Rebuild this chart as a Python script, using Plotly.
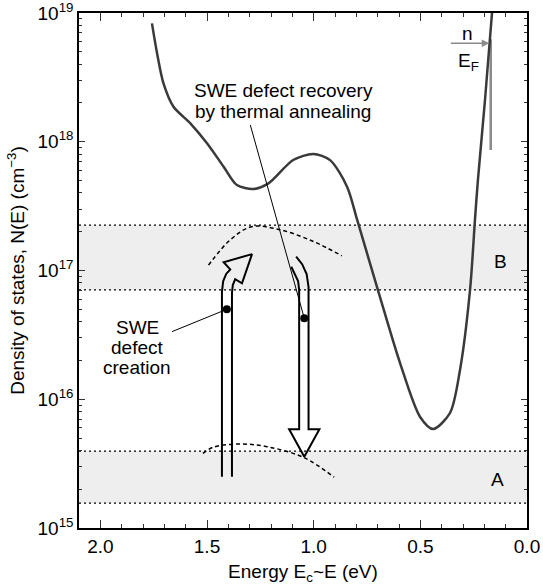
import numpy as np
import plotly.graph_objects as go

# ---------------- data ----------------
# main density-of-states curve (energy Ec-E in eV, N in cm^-3)
curve_E = [1.758, 1.734, 1.704, 1.657, 1.578, 1.500, 1.422, 1.360, 1.282, 1.212,
           1.096, 1.002, 0.923, 0.843, 0.796, 0.689, 0.595, 0.501, 0.440, 0.361,
           0.314, 0.267, 0.244, 0.230, 0.197, 0.164]
curve_N = [8.3e18, 4.86e18, 2.84e18, 1.87e18, 1.39e18, 9.73e17, 6.4e17, 4.61e17, 4.3e17, 4.75e17,
           7.21e17, 8.03e17, 7.2e17, 4.46e17, 2.47e17, 6.22e16, 1.91e16, 7.28e15, 5.87e15, 7.82e15,
           1.69e16, 7.06e16, 2.47e17, 5.05e17, 2.1e18, 1.0e19]

# defect distribution arcs (dashed)
arcB_E = [1.493, 1.391, 1.290, 1.157, 1.001, 0.868]
arcB_N = [1.1e17, 1.73e17, 2.19e17, 2.07e17, 1.68e17, 1.3e17]
arcA_E = [1.519, 1.471, 1.344, 1.219, 1.048, 0.904]
arcA_N = [3.8e15, 4.24e15, 4.49e15, 4.28e15, 3.54e15, 2.48e15]

# shaded bands (N limits)
bandB = [7.06e16, 2.25e17]
bandA = [1.56e15, 3.96e15]
x_range = [2.1, 0.0]

# schematic arrows
up_arrow_E = [1.430, 1.430, 1.424, 1.410, 1.391, 1.422, 1.289, 1.336, 1.368, 1.379, 1.383, 1.383]
up_arrow_N = [2.5e15, 6.81e16, 8.28e16, 9.4e16, 1.02e17, 1.16e17, 1.34e17, 7.96e16, 8.55e16,
              7.71e16, 6.68e16, 2.5e15]
down_arrow_E = [1.105, 1.087, 1.073, 1.068, 1.068, 1.115, 1.044, 0.973, 1.024, 1.024, 1.033, 1.054, 1.082]
down_arrow_N = [1.07e17, 9.4e16, 8.28e16, 7.06e16, 5.85e15, 5.85e15, 3.58e15, 5.85e15, 5.85e15,
                7.45e16, 9.4e16, 1.12e17, 1.28e17]

# leader lines (dot -> text)
creation_leader_E = [1.407, 1.664]
creation_leader_N = [5.0e16, 3.35e16]
recovery_leader_E = [1.044, 1.297]
recovery_leader_N = [4.26e16, 1.35e18]

# Fermi level marker
ef_line_E = [0.170, 0.170]
ef_line_N = [6.25e18, 8.63e17]
n_arrow_E = [0.364, 0.177]
n_arrow_N = 5.82e18

# text labels: (text, E, N)
creation_lines = [("SWE", 1.828, 3.6e16), ("defect", 1.828, 2.52e16), ("creation", 1.828, 1.77e16)]
recovery_lines = [("SWE defect recovery", 1.143, 2.50e18), ("by thermal annealing", 1.143, 1.72e18)]
band_labels = [("B", 0.123, 1.17e17), ("A", 0.139, 2.36e15)]
fermi_labels = [("n", 0.278, 6.9e18), ("E<sub>F</sub>", 0.274, 4.16e18)]

# axis ticks
y_major = [1e15, 1e16, 1e17, 1e18, 1e19]
y_major_text = ["10<sup>15</sup>", "10<sup>16</sup>", "10<sup>17</sup>", "10<sup>18</sup>", "10<sup>19</sup>"]
y_minor = [m * 10.0 ** d for d in range(15, 19) for m in range(2, 10)]

FONT = "Liberation Sans, Arial, Helvetica, sans-serif"
FS = 19

fig = go.Figure()

# bands
for lo, hi in (bandB, bandA):
    fig.add_trace(go.Scatter(x=[x_range[0], x_range[1], x_range[1], x_range[0], x_range[0]],
                             y=[lo, lo, hi, hi, lo], mode="lines", fill="toself",
                             fillcolor="#eeeeee", line=dict(width=0), hoverinfo="skip"))
    for v in (lo, hi):
        fig.add_trace(go.Scatter(x=x_range, y=[v, v], mode="lines",
                                 line=dict(color="black", width=1.3, dash="2px,3px")))

# dashed arcs
for ex, ny in ((arcB_E, arcB_N), (arcA_E, arcA_N)):
    fig.add_trace(go.Scatter(x=ex, y=ny, mode="lines",
                             line=dict(color="black", width=1.5, dash="4px,3px", shape="spline")))

# Fermi level line
fig.add_trace(go.Scatter(x=ef_line_E, y=ef_line_N, mode="lines",
                         line=dict(color="#8a8a8a", width=2.5)))

# main curve
fig.add_trace(go.Scatter(x=curve_E, y=curve_N, mode="lines",
                         line=dict(color="#3a3a3a", width=2.5, shape="spline", smoothing=0.8)))

# arrows
fig.add_trace(go.Scatter(x=up_arrow_E, y=up_arrow_N, mode="lines",
                         line=dict(color="black", width=2)))
fig.add_trace(go.Scatter(x=down_arrow_E, y=down_arrow_N, mode="lines",
                         line=dict(color="black", width=2)))

# leaders + dots
for ex, ny in ((creation_leader_E, creation_leader_N), (recovery_leader_E, recovery_leader_N)):
    fig.add_trace(go.Scatter(x=ex, y=ny, mode="lines", line=dict(color="black", width=1)))
    fig.add_trace(go.Scatter(x=[ex[0]], y=[ny[0]], mode="markers",
                             marker=dict(color="black", size=8)))

annotations = []
for txt, ex, ny in creation_lines + recovery_lines + band_labels + fermi_labels:
    annotations.append(dict(x=ex, y=np.log10(ny), xref="x", yref="y", text=txt,
                            showarrow=False, font=dict(family=FONT, size=FS, color="black"),
                            xanchor="center", yanchor="middle", borderpad=0))
annotations.append(dict(x=n_arrow_E[1], y=np.log10(n_arrow_N), ax=n_arrow_E[0], ay=np.log10(n_arrow_N),
                        xref="x", yref="y", axref="x", ayref="y", text="", showarrow=True,
                        arrowhead=2, arrowsize=1, arrowwidth=1.5, arrowcolor="#8a8a8a", standoff=0))

fig.update_layout(
    width=543, height=586,
    margin=dict(l=79, r=16, t=13, b=58, autoexpand=False),
    paper_bgcolor="white", plot_bgcolor="white",
    showlegend=False,
    font=dict(family=FONT, size=FS, color="black"),
    annotations=annotations,
)
fig.update_xaxes(range=x_range, tick0=0, dtick=0.5, tickformat=".1f", automargin=False,
                 ticks="inside", ticklen=8, tickwidth=1, tickcolor="#333",
                 showline=True, linecolor="black", linewidth=1.5, mirror="ticks",
                 showgrid=False, zeroline=False, ticklabeloverflow="allow",
                 minor=dict(ticks="inside", ticklen=4, dtick=0.1, tick0=0, tickwidth=1,
                            tickcolor="#333", showgrid=False),
                 title=dict(text="Energy E<sub>c</sub>~E (eV)", font=dict(size=FS), standoff=9),
                 tickfont=dict(size=FS))
fig.update_yaxes(type="log", range=[15, 19], tickmode="array", tickvals=y_major, ticktext=y_major_text,
                 automargin=False,
                 ticks="inside", ticklen=6, tickwidth=1, tickcolor="#333",
                 showline=True, linecolor="black", linewidth=1.5, mirror="ticks",
                 showgrid=False, zeroline=False, ticklabeloverflow="allow",
                 minor=dict(ticks="inside", ticklen=3, tickvals=y_minor, tickwidth=1,
                            tickcolor="#333", showgrid=False),
                 title=dict(text="Density of states, N(E) (cm<sup>−3</sup>)", font=dict(size=FS), standoff=8),
                 tickfont=dict(size=FS))

fig.write_html("out.html")
